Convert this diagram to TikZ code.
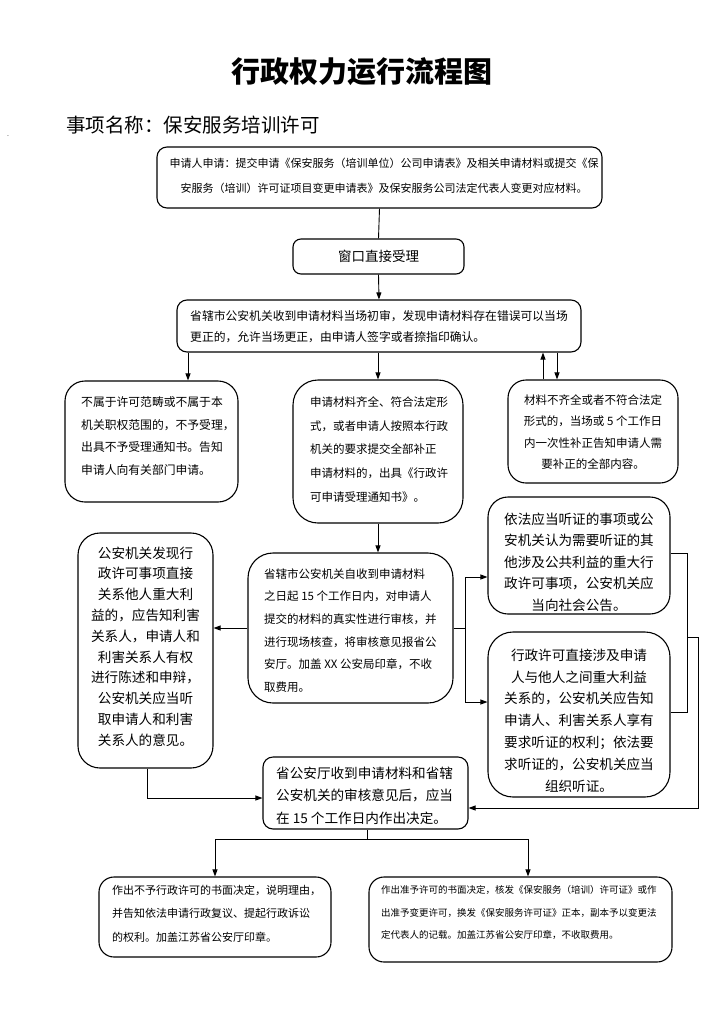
\documentclass[tikz,border=0pt]{standalone}
\usepackage{fontspec}
\setmainfont{Noto Sans CJK SC}
\usetikzlibrary{arrows.meta}
\tikzset{
  box/.style={draw, line width=1.1pt, inner sep=0pt, rectangle},
  txt/.style={inner sep=0pt},
  conn/.style={line width=0.9pt},
  arr/.style={line width=0.9pt, -{Triangle[length=7pt,width=5pt]}},
}
\newcommand{\fs}[2]{\fontsize{#1}{#2}\selectfont}
\begin{document}
\begin{tikzpicture}[x=1pt,y=-1pt]
\useasboundingbox (0,0) rectangle (728,1031);
% title
\node[txt, font=\fs{29}{31}\bfseries] (title) at (362,72) {行政权力运行流程图};
\node[txt, font=\fs{19.5}{22}, anchor=west] (sub) at (66,125) {事项名称：保安服务培训许可};
\node[txt, font=\fs{7}{7}] (dot) at (8,136) {.};
% boxes
\node[box, rounded corners=10pt, minimum width=445pt, minimum height=61pt] (b1) at (379.5,177.5) {};
\node[txt, font=\fs{11}{25}, align=center] (t1) at (384,175.5) {申请人申请：提交申请《保安服务（培训单位）公司申请表》及相关申请材料或提交《保\\安服务（培训）许可证项目变更申请表》及保安服务公司法定代表人变更对应材料。};
\node[box, rounded corners=8pt, minimum width=171pt, minimum height=35pt] (b2) at (378.5,256.5) {};
\node[txt, font=\fs{13.5}{15}] (t2) at (378.5,256.5) {窗口直接受理};
\node[box, rounded corners=10pt, minimum width=404pt, minimum height=52pt] (b3) at (379,326) {};
\node[txt, font=\fs{11.8}{21}, align=left, anchor=west] (t3) at (190,326.5) {省辖市公安机关收到申请材料当场初审，发现申请材料存在错误可以当场\\更正的，允许当场更正，由申请人签字或者捺指印确认。};
\node[box, rounded corners=20pt, minimum width=173pt, minimum height=121pt] (b4) at (151.5,441.5) {};
\node[txt, font=\fs{11.8}{22.7}, align=left, anchor=west] (t4) at (81,436) {不属于许可范畴或不属于本\\机关职权范围的，不予受理，\\出具不予受理通知书。告知\\申请人向有关部门申请。};
\node[box, rounded corners=25pt, minimum width=170pt, minimum height=143pt] (b5) at (378,451.5) {};
\node[txt, font=\fs{11.5}{23.7}, align=left, anchor=west] (t5) at (310,449.5) {申请材料齐全、符合法定形\\式，或者申请人按照本行政\\机关的要求提交全部补正\\申请材料的，出具《行政许\\可申请受理通知书》。};
\node[box, rounded corners=18pt, minimum width=170pt, minimum height=103pt] (b6) at (593,431.5) {};
\node[txt, font=\fs{11.5}{21.3}, align=center] (t6) at (593,432) {材料不齐全或者不符合法定\\形式的，当场或 5 个工作日\\内一次性补正告知申请人需\\要补正的全部内容。};
\node[box, rounded corners=25pt, minimum width=205pt, minimum height=150pt] (b7) at (350.5,628) {};
\node[txt, font=\fs{11.5}{22.6}, align=left, anchor=west] (t7) at (264,630.5) {省辖市公安机关自收到申请材料\\之日起 15 个工作日内，对申请人\\提交的材料的真实性进行审核，并\\进行现场核查，将审核意见报省公\\安厅。加盖 XX 公安局印章，不收\\取费用。};
\node[box, rounded corners=22pt, minimum width=135pt, minimum height=235pt] (b8) at (145.5,650.5) {};
\node[txt, font=\fs{13.6}{20.8}, align=center] (t8) at (145.5,646.5) {公安机关发现行\\政许可事项直接\\关系他人重大利\\益的，应告知利害\\关系人，申请人和\\利害关系人有权\\进行陈述和申辩，\\公安机关应当听\\取申请人和利害\\关系人的意见。};
\node[box, rounded corners=20pt, minimum width=182pt, minimum height=117pt] (b9) at (579,555.5) {};
\node[txt, font=\fs{13.6}{21.5}, align=center] (t9) at (579,562) {依法应当听证的事项或公\\安机关认为需要听证的其\\他涉及公共利益的重大行\\政许可事项，公安机关应\\当向社会公告。};
\node[box, rounded corners=25pt, minimum width=182pt, minimum height=165pt] (b10) at (579,714.5) {};
\node[txt, font=\fs{13.6}{21.8}, align=center] (t10) at (579,720.5) {行政许可直接涉及申请\\人与他人之间重大利益\\关系的，公安机关应告知\\申请人、利害关系人享有\\要求听证的权利；依法要\\求听证的，公安机关应当\\组织听证。};
\node[box, rounded corners=10pt, minimum width=205pt, minimum height=72pt] (b11) at (365.5,793) {};
\node[txt, font=\fs{13.6}{22.5}, align=left, anchor=west] (t11) at (276,795.5) {省公安厅收到申请材料和省辖\\公安机关的审核意见后，应当\\在 15 个工作日内作出决定。};
\node[box, rounded corners=15pt, minimum width=232pt, minimum height=80pt] (b12) at (215,917) {};
\node[txt, font=\fs{11}{23.5}, align=left, anchor=west] (t12) at (112,913.5) {作出不予行政许可的书面决定，说明理由，\\并告知依法申请行政复议、提起行政诉讼\\的权利。加盖江苏省公安厅印章。};
\node[box, rounded corners=15pt, minimum width=303pt, minimum height=85pt] (b13) at (520.5,919.5) {};
\node[txt, font=\fs{9.5}{22.5}, align=left, anchor=west] (t13) at (381,912.5) {作出准予许可的书面决定，核发《保安服务（培训）许可证》或作\\出准予变更许可，换发《保安服务许可证》正本，副本予以变更法\\定代表人的记载。加盖江苏省公安厅印章，不收取费用。};
% helper coordinates
\coordinate (c1) at (188,0);
\coordinate (c2) at (543,0);
\coordinate (c3) at (557,0);
\coordinate (c4) at (465,0);
\coordinate (c5) at (465,577);
\coordinate (c6) at (465,702);
\coordinate (c7) at (687,553);
\coordinate (c8) at (687,637);
\coordinate (c9) at (698,637);
\coordinate (c10) at (698,808);
\coordinate (c11) at (687,712);
\coordinate (c12) at (147,798);
\coordinate (c13) at (367,839);
\coordinate (c14) at (215,839);
\coordinate (c15) at (528,839);
% connectors
\draw[conn] (b1.south) -- (b2.north);
\draw[arr] (b2.south) -- (b3.north);
\draw[arr] (c1 |- b3.south) -- (c1 |- b4.north);
\draw[arr] (b3.south -| b5.north) -- (b5.north);
\draw[arr] (c2 |- b6.north) -- (c2 |- b3.south);
\draw[arr] (c3 |- b3.south) -- (c3 |- b6.north);
\draw[arr] (b5.south) -- (b5.south |- b7.north);
\draw[arr] (b7.west) -- (b8.east |- b7.west);
\draw[conn] (b7.east) -- (c4 |- b7.east);
\draw[conn] (c5) -- (c6);
\draw[arr] (c5) -- (c5 -| b9.west);
\draw[arr] (c6) -- (c6 -| b10.west);
\draw[conn] (c7 -| b9.east) -- (c7) -- (c8);
\draw[conn] (c11 -| b10.east) -- (c11) -- (c8);
\draw[arr] (c8) -- (c9) -- (c10) -- (c10 -| b11.east);
\draw[arr] (c12 |- b8.south) -- (c12) -- (c12 -| b11.west);
\draw[conn] (c13 |- b11.south) -- (c13);
\draw[conn] (c14) -- (c15);
\draw[arr] (c14) -- (c14 |- b12.north);
\draw[arr] (c15) -- (c15 |- b13.north);
\end{tikzpicture}
\end{document}
